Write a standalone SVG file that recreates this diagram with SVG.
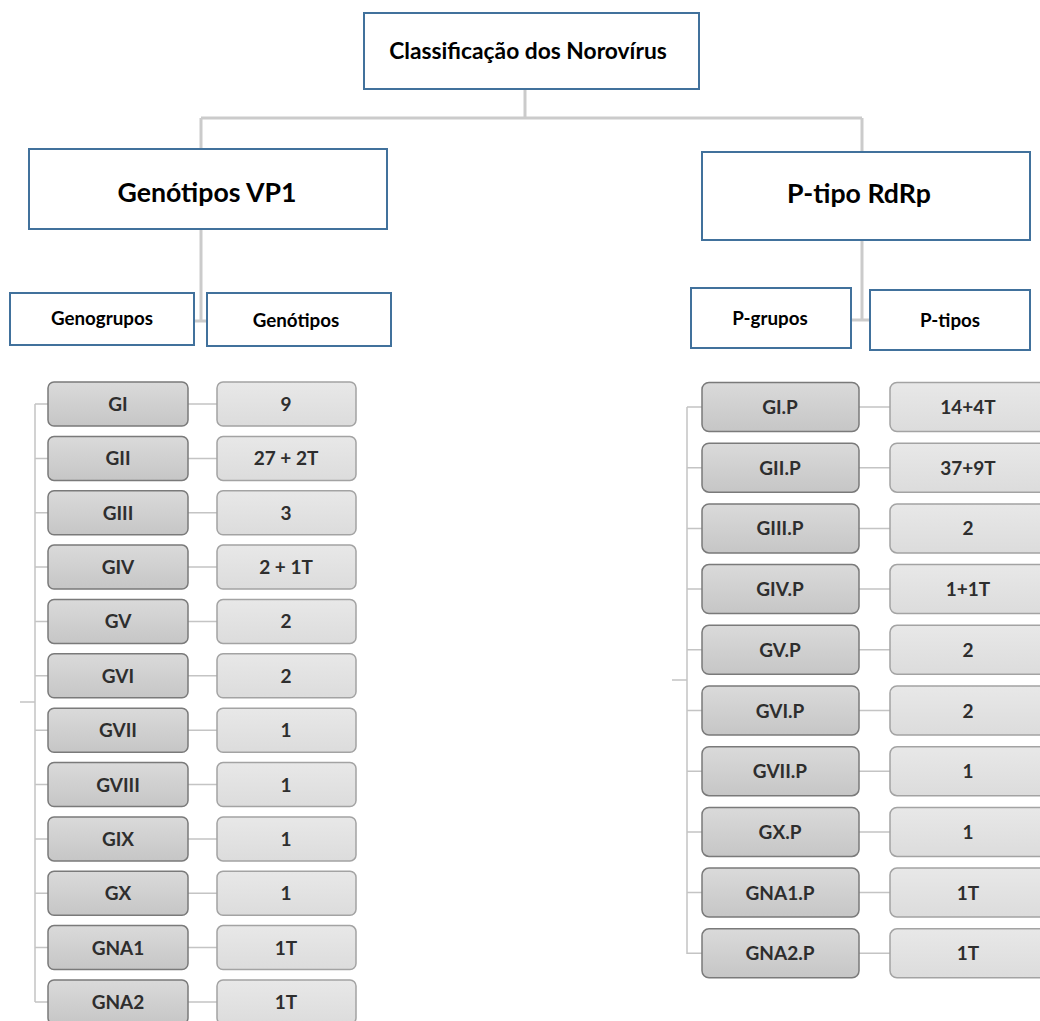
<svg xmlns="http://www.w3.org/2000/svg" width="1040" height="1021" viewBox="0 0 1040 1021">
<defs>
<linearGradient id="gg" x1="0" y1="0" x2="0" y2="1"><stop offset="0" stop-color="#dadada"/><stop offset="1" stop-color="#c6c6c6"/></linearGradient>
<linearGradient id="gv" x1="0" y1="0" x2="0" y2="1"><stop offset="0" stop-color="#e8e8e8"/><stop offset="1" stop-color="#dcdcdc"/></linearGradient>
<style>
.hb{fill:#fff;stroke:#41719c;stroke-width:2}
.t{font-family:Lato,"Liberation Sans",sans-serif;font-weight:bold;fill:#000;text-anchor:middle}
.grp{fill:url(#gg);stroke:#7a7a7a;stroke-width:1.5}
.val{fill:url(#gv);stroke:#a3a3a3;stroke-width:1.5}
.lt{font-family:Lato,"Liberation Sans",sans-serif;font-weight:bold;fill:#2e2e2e;text-anchor:middle;font-size:19px}
.c{fill:none;stroke:#cbcbcb;stroke-width:3}
.cl{fill:none;stroke:#c4c4c4;stroke-width:1.5}
</style>
</defs>
<rect width="1040" height="1021" fill="#fff"/>
<g id="connectors">
<path class="c" d="M525 89V118M201 118H862M201 118V149M862 118V152M201 229V321H207M862 240V320H870M195 321H201M851 320H862"/>
<path class="cl" d="M35 404V1002M20 702H35M35 404H48M35 458.4H48M35 512.7H48M35 567.1H48M35 621.4H48M35 675.8H48M35 730.2H48M35 784.5H48M35 838.9H48M35 893.2H48M35 947.6H48M35 1002H48"/>
<path class="cl" d="M188 404H217M188 458.4H217M188 512.7H217M188 567.1H217M188 621.4H217M188 675.8H217M188 730.2H217M188 784.5H217M188 838.9H217M188 893.2H217M188 947.6H217M188 1002H217"/>
<path class="cl" d="M687 407V954M672 680H687M687 407H702M687 467.7H702M687 528.4H702M687 589.1H702M687 649.8H702M687 710.5H702M687 771.2H702M687 831.9H702M687 892.6H702M687 953.3H702"/>
<path class="cl" d="M859 407H890M859 467.7H890M859 528.4H890M859 589.1H890M859 649.8H890M859 710.5H890M859 771.2H890M859 831.9H890M859 892.6H890M859 953.3H890"/>
</g>
<g id="root"><rect class="hb" x="364" y="13" width="335" height="76"/><text class="t" x="528" y="59" font-size="22.8">Classificação dos Norovírus</text></g>
<g id="vp1"><rect class="hb" x="29" y="149" width="358" height="80"/><text class="t" x="207" y="202" font-size="26.7">Genótipos VP1</text></g>
<g id="rdrp"><rect class="hb" x="702" y="152" width="328" height="88"/><text class="t" x="859" y="203" font-size="26.7">P-tipo RdRp</text></g>
<g id="genogrupos"><rect class="hb" x="10" y="293" width="184" height="52"/><text class="t" x="102" y="325" font-size="18.8">Genogrupos</text></g>
<g id="genotipos"><rect class="hb" x="207" y="293" width="184" height="53"/><text class="t" x="296" y="327" font-size="18.8">Genótipos</text></g>
<g id="pgrupos"><rect class="hb" x="691" y="288" width="160" height="60"/><text class="t" x="770" y="325" font-size="18.8">P-grupos</text></g>
<g id="ptipos"><rect class="hb" x="870" y="290" width="160" height="60"/><text class="t" x="950" y="327" font-size="18.8">P-tipos</text></g>
<g id="GI"><rect class="grp" x="48" y="382" width="140" height="44" rx="6"/><text class="lt" x="118" y="411">GI</text></g>
<g id="GI-v"><rect class="val" x="217" y="382" width="139" height="44" rx="6"/><text class="lt" x="286" y="411">9</text></g>
<g id="GII"><rect class="grp" x="48" y="436.4" width="140" height="44" rx="6"/><text class="lt" x="118" y="465.4">GII</text></g>
<g id="GII-v"><rect class="val" x="217" y="436.4" width="139" height="44" rx="6"/><text class="lt" x="286" y="465.4">27 + 2T</text></g>
<g id="GIII"><rect class="grp" x="48" y="490.7" width="140" height="44" rx="6"/><text class="lt" x="118" y="519.7">GIII</text></g>
<g id="GIII-v"><rect class="val" x="217" y="490.7" width="139" height="44" rx="6"/><text class="lt" x="286" y="519.7">3</text></g>
<g id="GIV"><rect class="grp" x="48" y="545.1" width="140" height="44" rx="6"/><text class="lt" x="118" y="574.1">GIV</text></g>
<g id="GIV-v"><rect class="val" x="217" y="545.1" width="139" height="44" rx="6"/><text class="lt" x="286" y="574.1">2 + 1T</text></g>
<g id="GV"><rect class="grp" x="48" y="599.4" width="140" height="44" rx="6"/><text class="lt" x="118" y="628.4">GV</text></g>
<g id="GV-v"><rect class="val" x="217" y="599.4" width="139" height="44" rx="6"/><text class="lt" x="286" y="628.4">2</text></g>
<g id="GVI"><rect class="grp" x="48" y="653.8" width="140" height="44" rx="6"/><text class="lt" x="118" y="682.8">GVI</text></g>
<g id="GVI-v"><rect class="val" x="217" y="653.8" width="139" height="44" rx="6"/><text class="lt" x="286" y="682.8">2</text></g>
<g id="GVII"><rect class="grp" x="48" y="708.2" width="140" height="44" rx="6"/><text class="lt" x="118" y="737.2">GVII</text></g>
<g id="GVII-v"><rect class="val" x="217" y="708.2" width="139" height="44" rx="6"/><text class="lt" x="286" y="737.2">1</text></g>
<g id="GVIII"><rect class="grp" x="48" y="762.5" width="140" height="44" rx="6"/><text class="lt" x="118" y="791.5">GVIII</text></g>
<g id="GVIII-v"><rect class="val" x="217" y="762.5" width="139" height="44" rx="6"/><text class="lt" x="286" y="791.5">1</text></g>
<g id="GIX"><rect class="grp" x="48" y="816.9" width="140" height="44" rx="6"/><text class="lt" x="118" y="845.9">GIX</text></g>
<g id="GIX-v"><rect class="val" x="217" y="816.9" width="139" height="44" rx="6"/><text class="lt" x="286" y="845.9">1</text></g>
<g id="GX"><rect class="grp" x="48" y="871.2" width="140" height="44" rx="6"/><text class="lt" x="118" y="900.2">GX</text></g>
<g id="GX-v"><rect class="val" x="217" y="871.2" width="139" height="44" rx="6"/><text class="lt" x="286" y="900.2">1</text></g>
<g id="GNA1"><rect class="grp" x="48" y="925.6" width="140" height="44" rx="6"/><text class="lt" x="118" y="954.6">GNA1</text></g>
<g id="GNA1-v"><rect class="val" x="217" y="925.6" width="139" height="44" rx="6"/><text class="lt" x="286" y="954.6">1T</text></g>
<g id="GNA2"><rect class="grp" x="48" y="980" width="140" height="44" rx="6"/><text class="lt" x="118" y="1009">GNA2</text></g>
<g id="GNA2-v"><rect class="val" x="217" y="980" width="139" height="44" rx="6"/><text class="lt" x="286" y="1009">1T</text></g>
<g id="GIP"><rect class="grp" x="702" y="382.5" width="157" height="49" rx="7"/><text class="lt" x="780" y="414">GI.P</text></g>
<g id="GIP-v"><rect class="val" x="890" y="382.5" width="157" height="49" rx="7"/><text class="lt" x="968" y="414">14+4T</text></g>
<g id="GIIP"><rect class="grp" x="702" y="443.2" width="157" height="49" rx="7"/><text class="lt" x="780" y="474.7">GII.P</text></g>
<g id="GIIP-v"><rect class="val" x="890" y="443.2" width="157" height="49" rx="7"/><text class="lt" x="968" y="474.7">37+9T</text></g>
<g id="GIIIP"><rect class="grp" x="702" y="503.9" width="157" height="49" rx="7"/><text class="lt" x="780" y="535.4">GIII.P</text></g>
<g id="GIIIP-v"><rect class="val" x="890" y="503.9" width="157" height="49" rx="7"/><text class="lt" x="968" y="535.4">2</text></g>
<g id="GIVP"><rect class="grp" x="702" y="564.6" width="157" height="49" rx="7"/><text class="lt" x="780" y="596.1">GIV.P</text></g>
<g id="GIVP-v"><rect class="val" x="890" y="564.6" width="157" height="49" rx="7"/><text class="lt" x="968" y="596.1">1+1T</text></g>
<g id="GVP"><rect class="grp" x="702" y="625.3" width="157" height="49" rx="7"/><text class="lt" x="780" y="656.8">GV.P</text></g>
<g id="GVP-v"><rect class="val" x="890" y="625.3" width="157" height="49" rx="7"/><text class="lt" x="968" y="656.8">2</text></g>
<g id="GVIP"><rect class="grp" x="702" y="686" width="157" height="49" rx="7"/><text class="lt" x="780" y="717.5">GVI.P</text></g>
<g id="GVIP-v"><rect class="val" x="890" y="686" width="157" height="49" rx="7"/><text class="lt" x="968" y="717.5">2</text></g>
<g id="GVIIP"><rect class="grp" x="702" y="746.7" width="157" height="49" rx="7"/><text class="lt" x="780" y="778.2">GVII.P</text></g>
<g id="GVIIP-v"><rect class="val" x="890" y="746.7" width="157" height="49" rx="7"/><text class="lt" x="968" y="778.2">1</text></g>
<g id="GXP"><rect class="grp" x="702" y="807.4" width="157" height="49" rx="7"/><text class="lt" x="780" y="838.9">GX.P</text></g>
<g id="GXP-v"><rect class="val" x="890" y="807.4" width="157" height="49" rx="7"/><text class="lt" x="968" y="838.9">1</text></g>
<g id="GNA1P"><rect class="grp" x="702" y="868.1" width="157" height="49" rx="7"/><text class="lt" x="780" y="899.6">GNA1.P</text></g>
<g id="GNA1P-v"><rect class="val" x="890" y="868.1" width="157" height="49" rx="7"/><text class="lt" x="968" y="899.6">1T</text></g>
<g id="GNA2P"><rect class="grp" x="702" y="928.8" width="157" height="49" rx="7"/><text class="lt" x="780" y="960.3">GNA2.P</text></g>
<g id="GNA2P-v"><rect class="val" x="890" y="928.8" width="157" height="49" rx="7"/><text class="lt" x="968" y="960.3">1T</text></g>
</svg>
